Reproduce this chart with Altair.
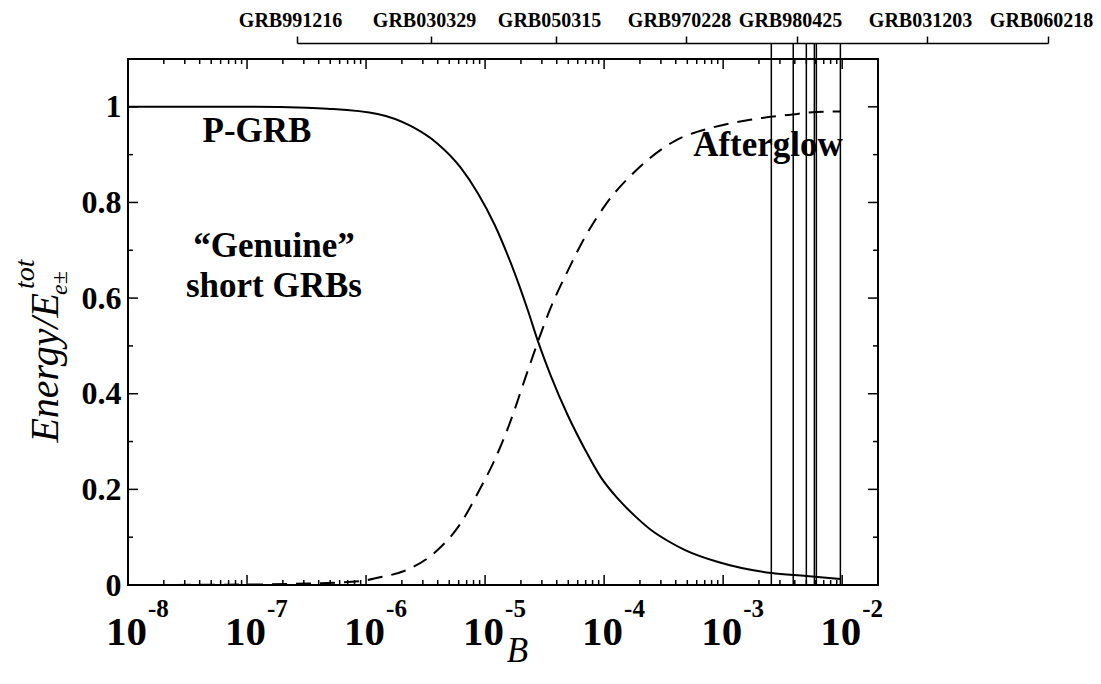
import altair as alt
import pandas as pd

# ---------------- data ----------------
# P-GRB energy fraction (solid curve)
pgrb_B = [1e-8, 1e-7, 3.16e-7, 4.73e-7, 1.25e-6, 2.37e-6, 3.99e-6, 6.24e-6, 8.67e-6,
          1.2e-5, 1.64e-5, 2.29e-5, 2.77e-5, 3.56e-5, 4.95e-5, 6.89e-5, 9.4e-5,
          1.31e-4, 1.82e-4, 2.48e-4, 3.44e-4, 4.79e-4, 9.08e-4, 2.54e-3, 5.0e-3, 9.66e-3]
pgrb_E = [1.0, 1.0, 0.998, 0.996, 0.985, 0.960, 0.923, 0.873, 0.820,
          0.754, 0.674, 0.574, 0.511, 0.438, 0.355, 0.284, 0.225,
          0.180, 0.144, 0.115, 0.092, 0.073, 0.048, 0.025, 0.019, 0.0125]
# Afterglow energy fraction (dashed curve)
ag_B = [1e-8, 1e-7, 3.16e-7, 8.97e-7, 1.25e-6, 2.37e-6, 3.99e-6, 6.24e-6, 8.67e-6,
        1.2e-5, 1.61e-5, 2.29e-5, 3.56e-5, 4.95e-5, 6.89e-5, 1.04e-4, 1.93e-4,
        3.94e-4, 7.93e-4, 1.69e-3, 3.52e-3, 7.36e-3, 9.66e-3]
ag_E = [0.0, 0.001, 0.003, 0.008, 0.015, 0.035, 0.073, 0.129, 0.192,
        0.261, 0.338, 0.449, 0.580, 0.657, 0.727, 0.797, 0.871,
        0.929, 0.956, 0.973, 0.983, 0.990, 0.990]
# B values of the vertical GRB lines
grb_line_B = [2.54e-3, 3.88e-3, 5.0e-3, 5.84e-3, 6.07e-3, 9.66e-3]
# top bracket labels and their tick positions along the bracket
grb_names = ["GRB991216", "GRB030329", "GRB050315", "GRB970228",
             "GRB980425", "GRB031203", "GRB060218"]
grb_top_pos = [169, 303, 428, 558, 669, 799, 920]

x_exps = [-8, -7, -6, -5, -4, -3, -2]
x_major = [10.0 ** e for e in x_exps]
x_minor = [m * 10.0 ** k for k in range(-8, -2) for m in range(2, 10)]
y_major = [0, 0.2, 0.4, 0.6, 0.8, 1.0]
y_minor = [0.1, 0.3, 0.5, 0.7, 0.9]
X_DOMAIN = [1e-8, 2e-2]
Y_DOMAIN = [0, 1.1]

SERIF = "Liberation Serif"
W, H = 750, 526

xs = alt.Scale(type="log", domain=X_DOMAIN, nice=False)
ys = alt.Scale(domain=Y_DOMAIN, nice=False, zero=False)

x_axis = alt.Axis(title="B", titleFont=SERIF, titleFontStyle="italic", titleFontWeight="normal",
                  titleFontSize=35, titleColor="black", titlePadding=48, titleX=389,
                  labels=False, ticks=False, domain=False, grid=False)
y_axis = alt.Axis(values=y_major, format=".1~f", labelFont=SERIF, labelFontWeight="bold",
                  labelFontSize=32, labelColor="black", labelPadding=7, labelFlush=False,
                  ticks=False, domain=False, grid=False, title=None)

df_p = pd.DataFrame({"B": pgrb_B, "E": pgrb_E})
df_a = pd.DataFrame({"B": ag_B, "E": ag_E})

solid = alt.Chart(df_p).mark_line(color="black", strokeWidth=2, interpolate="monotone").encode(
    x=alt.X("B:Q", scale=xs, axis=x_axis),
    y=alt.Y("E:Q", scale=ys, axis=y_axis),
)
dashed = alt.Chart(df_a).mark_line(color="black", strokeWidth=2, strokeDash=[15, 9],
                                   interpolate="monotone").encode(
    x=alt.X("B:Q", scale=xs),
    y=alt.Y("E:Q", scale=ys),
)

rules = alt.Chart(pd.DataFrame({"B": grb_line_B})).mark_rule(color="black", strokeWidth=1.5).encode(
    x=alt.X("B:Q", scale=xs),
    y=alt.datum(0),
    y2=alt.value(-16),
)


def xticks(vals, L, top):
    return alt.Chart(pd.DataFrame({"B": vals})).mark_tick(
        orient="vertical", size=L, thickness=1.5, color="black", opacity=1,
        yOffset=(L / 2 if top else -L / 2)
    ).encode(x=alt.X("B:Q", scale=xs), y=alt.datum(Y_DOMAIN[1] if top else Y_DOMAIN[0]))


def yticks(vals, L, right):
    return alt.Chart(pd.DataFrame({"E": vals})).mark_tick(
        orient="horizontal", size=L, thickness=1.5, color="black", opacity=1,
        xOffset=(-L / 2 if right else L / 2)
    ).encode(y=alt.Y("E:Q", scale=ys), x=alt.datum(X_DOMAIN[1] if right else X_DOMAIN[0]))


tick_layers = [
    xticks(x_major, 10, False), xticks(x_minor, 5, False),
    xticks(x_major, 10, True), xticks(x_minor, 5, True),
    yticks(y_major, 10, False), yticks(y_minor, 5, False),
    yticks(y_major, 10, True), yticks(y_minor, 5, True),
]

df_lab = pd.DataFrame({"B": x_major, "base": ["10"] * len(x_major),
                       "exp": [str(e) for e in x_exps]})
xlab_base = alt.Chart(df_lab).mark_text(font=SERIF, fontWeight="bold", fontSize=41, color="black",
                                         align="right", baseline="alphabetic", dx=19, dy=60).encode(
    x=alt.X("B:Q", scale=xs), y=alt.datum(0), text="base:N")
xlab_exp = alt.Chart(df_lab).mark_text(font=SERIF, fontWeight="bold", fontSize=25, color="black",
                                        align="left", baseline="alphabetic", dx=20, dy=32).encode(
    x=alt.X("B:Q", scale=xs), y=alt.datum(0), text="exp:N")


def label(txt, x, y, size=35, weight="bold", style="normal", align="center", angle=0,
          baseline="middle"):
    return alt.Chart(pd.DataFrame({"t": [txt]})).mark_text(
        font=SERIF, fontSize=size, fontWeight=weight, fontStyle=style, color="black",
        align=align, baseline=baseline, angle=angle
    ).encode(x=alt.value(x), y=alt.value(y), text="t:N")


annotations = [
    label("P-GRB", 129, 72),
    label("Afterglow", 640, 86),
    label("\u201cGenuine\u201d", 146, 187),
    label("short GRBs", 146, 227),
    # y-axis title: Energy/E_{e±}^{tot}
    label("Energy/E", -70, 234, size=40, weight="normal", style="italic", align="right",
          angle=270, baseline="alphabetic"),
    label("tot", -94, 230, size=28, weight="normal", style="italic", align="left",
          angle=270, baseline="alphabetic"),
    label("e\u00b1", -61, 236, size=24, weight="normal", style="italic", align="left",
          angle=270, baseline="alphabetic"),
]

main = alt.layer(solid, dashed, rules, *tick_layers, xlab_base, xlab_exp, *annotations)

label_expr = " : ".join(
    f"datum.value == {p} ? '{n}'" for p, n in zip(grb_top_pos, grb_names)) + " : ''"

top = alt.Chart(pd.DataFrame({"pos": grb_top_pos})).mark_point(opacity=0).encode(
    x=alt.X("pos:Q",
            scale=alt.Scale(domain=[min(grb_top_pos), max(grb_top_pos)],
                            range=[min(grb_top_pos), max(grb_top_pos)], nice=False, zero=False),
            axis=alt.Axis(orient="top", offset=16, values=grb_top_pos, labelExpr=label_expr,
                          title=None, grid=False, domainColor="black", domainWidth=1.5,
                          tickColor="black", tickWidth=1.5, tickSize=7,
                          labelFont=SERIF, labelFontWeight="bold", labelFontSize=20,
                          labelColor="black", labelPadding=6, labelOffset=-7, labelFlush=False,
                          labelOverlap=False, labelBound=False)),
    y=alt.value(0),
)

chart = alt.layer(main, top).resolve_scale(x="independent").properties(
    width=W, height=H,
    padding={"left": 120, "top": 51, "right": 215, "bottom": 85},
    autosize=alt.AutoSizeParams(type="none"),
    background="white",
).configure_view(stroke="black", strokeWidth=2).configure_axis(grid=False)

chart.save("out.html", embed_options={"renderer": "svg", "actions": False})
